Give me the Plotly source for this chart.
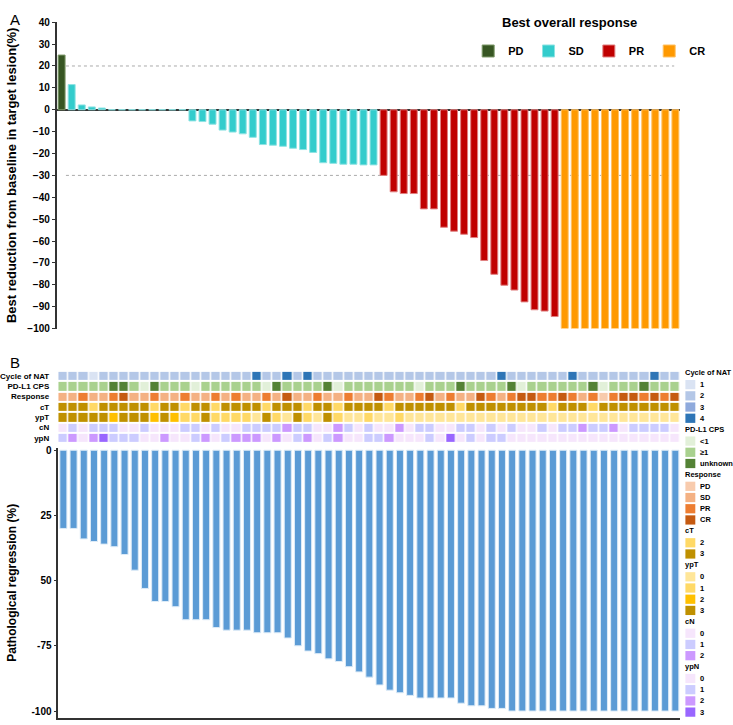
import plotly.graph_objs as go

# ---- Panel A: best change of target lesion (waterfall) ----
pd_vals = [25.0]
sd_vals = [11.5, 2.2, 1.3, 0.8, 0, 0, 0, 0, 0, 0, 0, 0,
           -5.1, -5.4, -6.6, -9.3, -10.2, -11.0, -12.6, -15.9, -16.2, -16.7,
           -17.6, -18.2, -19.5, -24.2, -24.5, -24.9, -24.9, -25.2, -25.2]
pr_vals = [-30.0, -37.5, -38.3, -38.3, -45.3, -45.3, -53.7, -55.5, -56.9,
           -58.4, -68.9, -75.2, -80.2, -82.4, -87.8, -91.4, -92.0, -94.5]
cr_vals = [-100, -100, -100, -100, -100, -100, -100, -100, -100, -100, -100, -100]

# ---- Panel B: pathological regression ----
regression = [30, 30, 34, 35, 36, 37, 40, 46, 53, 58, 58, 60, 65, 65, 65, 68,
              69, 69, 69, 70, 70, 70, 72, 75, 77, 78, 80, 81, 83, 85, 87, 90,
              92, 93, 94, 95, 95, 95, 95, 97, 98, 98, 99, 99, 100, 100, 100,
              100, 100, 100, 100, 100, 100, 100, 100, 100, 100, 100, 100, 100, 100]

# clinical annotation rows (category index per patient)
cycle_nat = [1, 1, 1, 0, 1, 1, 1, 1, 1, 1, 1, 1, 1, 1, 1, 1, 1, 1, 1, 3, 1, 1, 3, 1,
             3, 1, 1, 1, 1, 1, 1, 1, 1, 1, 1, 1, 1, 1, 1, 1, 1, 1, 1, 3, 1, 1, 1, 1,
             1, 1, 3, 1, 1, 1, 1, 1, 1, 1, 3, 1, 1]
pdl1_cps = [1, 1, 1, 1, 1, 2, 2, 1, 0, 2, 1, 1, 1, 0, 1, 1, 1, 1, 1, 1, 0, 2, 1, 1,
            1, 1, 2, 0, 1, 1, 1, 1, 1, 1, 1, 0, 1, 1, 1, 2, 1, 1, 1, 1, 2, 0, 1, 1,
            1, 1, 1, 1, 2, 0, 1, 1, 1, 2, 1, 1, 1]
response_b = [1, 1, 2, 1, 1, 2, 3, 1, 1, 2, 1, 1, 2, 1, 1, 2, 1, 2, 1, 1, 2, 1, 3, 1,
              1, 2, 1, 1, 2, 1, 1, 3, 2, 1, 1, 2, 3, 1, 2, 1, 1, 3, 2, 1, 2, 3, 3, 2,
              2, 3, 2, 1, 2, 0, 2, 3, 3, 2, 3, 2, 3]
ct = [1, 1, 1, 0, 1, 1, 1, 1, 1, 0, 1, 1, 0, 1, 1, 0, 1, 1, 1, 1, 0, 1, 1, 1, 0, 1,
      1, 0, 1, 1, 1, 1, 0, 1, 1, 1, 1, 1, 1, 0, 1, 1, 1, 1, 1, 1, 1, 1, 0, 1, 1, 1,
      0, 1, 1, 1, 1, 1, 1, 1, 1]
ypt = [3, 3, 3, 3, 3, 2, 3, 3, 3, 2, 3, 2, 1, 1, 3, 1, 1, 1, 1, 0, 3, 1, 0, 3, 1, 0,
       3, 1, 0, 0, 1, 0, 0, 1, 0, 0, 0, 0, 0, 0, 0, 0, 0, 0, 0, 0, 0, 0, 0, 0, 0, 0,
       0, 0, 0, 0, 0, 0, 0, 0, 0]
cn = [0, 1, 0, 1, 1, 1, 0, 0, 1, 0, 0, 0, 1, 1, 0, 1, 0, 0, 1, 1, 1, 1, 2, 1, 1, 0,
      0, 2, 1, 0, 1, 0, 0, 2, 0, 1, 1, 0, 0, 1, 1, 0, 1, 0, 1, 0, 0, 1, 0, 1, 1, 2,
      1, 1, 2, 0, 1, 1, 1, 1, 0]
ypn = [1, 2, 0, 2, 3, 1, 1, 1, 0, 0, 2, 0, 0, 1, 2, 0, 1, 2, 2, 2, 0, 2, 0, 1, 2, 0,
       1, 2, 0, 0, 1, 1, 2, 0, 0, 0, 1, 0, 3, 0, 1, 0, 1, 1, 0, 0, 0, 0, 0, 0, 0, 0,
       0, 0, 0, 0, 0, 0, 0, 0, 0]

row_names = ['Cycle of NAT', 'PD-L1 CPS', 'Response', 'cT', 'ypT', 'cN', 'ypN']
row_data = [cycle_nat, pdl1_cps, response_b, ct, ypt, cn, ypn]
row_labels = [['1', '2', '3', '4'],
              ['<1', '\u22651', 'unknown'],
              ['PD', 'SD', 'PR', 'CR'],
              ['2', '3'],
              ['0', '1', '2', '3'],
              ['0', '1', '2'],
              ['0', '1', '2', '3']]
row_colors = [['#DAE3F3', '#B4C7E7', '#8FAADC', '#2E75B6'],
              ['#E2F0D9', '#A9D18E', '#548235'],
              ['#F8CBAD', '#F4B183', '#ED7D31', '#C55A11'],
              ['#FFD966', '#BF9000'],
              ['#FFE699', '#FFD966', '#FFC000', '#BF9000'],
              ['#F6E6FC', '#CCCCFF', '#CC99FF'],
              ['#F6E6FC', '#CCCCFF', '#CC99FF', '#9966FF']]

resp_colors = {'PD': '#375623', 'SD': '#33CCCC', 'PR': '#C00000', 'CR': '#FF9900'}
resp_edges = {'PD': '#7F9A6A', 'SD': '#8FE3E3', 'PR': '#E08080', 'CR': '#FFC266'}

FONT = 'Liberation Sans'
W, H = 733, 725


def px_x(p):
    return p / W


def px_y(p):
    return 1 - p / H


def step_scale(colors):
    n = len(colors)
    scale = []
    for i, c in enumerate(colors):
        scale.append([i / n, c])
        scale.append([(i + 1) / n, c])
    return scale


fig = go.Figure()

# Panel A bars, one trace per response group
start = 0
for name, vals in [('PD', pd_vals), ('SD', sd_vals), ('PR', pr_vals), ('CR', cr_vals)]:
    fig.add_trace(go.Bar(
        x=list(range(start, start + len(vals))),
        y=vals,
        name=name,
        marker=dict(color=resp_colors[name], line=dict(color=resp_edges[name], width=1)),
        xaxis='x', yaxis='y'
    ))
    start += len(vals)

# Panel B heatmap: one trace, each row's categories shifted into one shared colour list
all_colors = []
z_rows = []
for vals, colors in zip(row_data, row_colors):
    offset = len(all_colors)
    z_rows.append([offset + v for v in vals])
    all_colors.extend(colors)

fig.add_trace(go.Heatmap(
    x=list(range(len(regression))),
    y=row_names,
    z=z_rows,
    colorscale=step_scale(all_colors),
    zmin=-0.5, zmax=len(all_colors) - 0.5,
    showscale=False, xgap=1.5, ygap=2,
    hoverinfo='skip',
    xaxis='x2', yaxis='y2'
))

# Panel B bars
fig.add_trace(go.Bar(
    x=list(range(len(regression))),
    y=[-v for v in regression],
    marker=dict(color='#5B9BD5', line=dict(color='#DDEBF7', width=1)),
    showlegend=False,
    xaxis='x3', yaxis='y3'
))

# Panel B key (legend boxes are too tall for this spacing, so it is laid out by hand)
key_shapes = []
key_notes = []
cursor = 373.0
for name, labels, colors in zip(row_names, row_labels, row_colors):
    key_notes.append(dict(text=name, x=px_x(683), y=px_y(cursor), xref='paper', yref='paper',
                          xanchor='left', yanchor='middle', showarrow=False,
                          font=dict(family=FONT, size=7.5, weight='bold')))
    cursor += 12.0
    for lab, col in zip(labels, colors):
        key_shapes.append(dict(type='rect', xref='paper', yref='paper', line=dict(width=0),
                               x0=px_x(685), x1=px_x(695),
                               y0=px_y(cursor + 4.7), y1=px_y(cursor - 4.7), fillcolor=col))
        key_notes.append(dict(text=lab, x=px_x(698), y=px_y(cursor), xref='paper', yref='paper',
                              xanchor='left', yanchor='middle', showarrow=False,
                              font=dict(family=FONT, size=7.5, weight='bold')))
        cursor += 11.4
    cursor += 11.2 - 11.4

tick_font = dict(family=FONT, size=10, color='black', weight='bold')

fig.update_layout(
    width=W, height=H,
    margin=dict(l=0, r=0, t=0, b=0),
    plot_bgcolor='white', paper_bgcolor='white',
    font=dict(family=FONT, color='black'),
    bargap=0.31,
    xaxis=dict(domain=[px_x(51), px_x(680)], range=[-0.5, 61.5],
               showticklabels=False, showgrid=False, zeroline=False, ticks=''),
    yaxis=dict(domain=[px_y(328), px_y(16.5)], range=[-100, 40], dtick=10,
               showgrid=False, zeroline=True, zerolinecolor='#333333', zerolinewidth=1.5,
               showline=True, linecolor='#333333', linewidth=1.5,
               ticks='outside', ticklen=3, tickcolor='#333333',
               tickfont=tick_font,
               title=dict(text='Best reduction from baseline in target lesion(%)',
                          font=dict(family=FONT, size=13, weight='bold'), standoff=8)),
    xaxis2=dict(domain=[px_x(52.7), px_x(680)], range=[-0.5, 60.5],
                showticklabels=False, showgrid=False, zeroline=False, anchor='y2'),
    yaxis2=dict(domain=[px_y(444.5), px_y(371)], anchor='x2',
                autorange='reversed', showgrid=False, zeroline=False,
                tickfont=dict(family=FONT, size=8, weight='bold'), ticks='',
                ticklabelstandoff=8),
    xaxis3=dict(domain=[px_x(52.7), px_x(680)], range=[-0.5, 60.5], anchor='y3',
                showticklabels=False, showgrid=False, zeroline=False,
                showline=True, linecolor='#333333', linewidth=1.5),
    yaxis3=dict(domain=[px_y(723.8), px_y(449.3)], range=[-102.6, 0.9], anchor='x3',
                tickvals=[0, -25, -50, -75, -100],
                ticktext=['0', '25', '50', '-75', '-100'],
                showgrid=False, zeroline=False,
                showline=True, linecolor='#333333', linewidth=1.5,
                ticks='outside', ticklen=3, tickcolor='#333333',
                tickfont=tick_font,
                title=dict(text='Pathological regression (%)',
                           font=dict(family=FONT, size=12, weight='bold'), standoff=12)),
    legend=dict(orientation='h', x=px_x(466), y=px_y(31), xanchor='left', yanchor='top',
                font=dict(family=FONT, size=11, weight='bold'),
                itemwidth=30, bgcolor='rgba(0,0,0,0)'),
    shapes=[
        dict(type='line', xref='x domain', yref='y', x0=0.015, x1=0.99, y0=20, y1=20,
             line=dict(color='#AAAAAA', width=1, dash='dot'), layer='below'),
        dict(type='line', xref='x domain', yref='y', x0=0.015, x1=0.99, y0=-30, y1=-30,
             line=dict(color='#AAAAAA', width=1, dash='dot'), layer='below'),
    ] + key_shapes,
    annotations=[
        dict(text='A', x=px_x(2), y=px_y(3), xref='paper', yref='paper',
             xanchor='left', yanchor='top', showarrow=False, font=dict(size=15)),
        dict(text='B', x=px_x(2), y=px_y(352), xref='paper', yref='paper',
             xanchor='left', yanchor='top', showarrow=False, font=dict(size=15)),
        dict(text='Best overall response', x=px_x(568), y=px_y(17), xref='paper', yref='paper',
             xanchor='center', yanchor='middle', showarrow=False,
             font=dict(family=FONT, size=13, weight='bold')),
    ] + key_notes
)

# the page body has a default 8px margin; drop it so the figure sits at the window corner
fig.write_html('out.html', config={'displayModeBar': False},
               post_script="document.body.style.margin='0';")
